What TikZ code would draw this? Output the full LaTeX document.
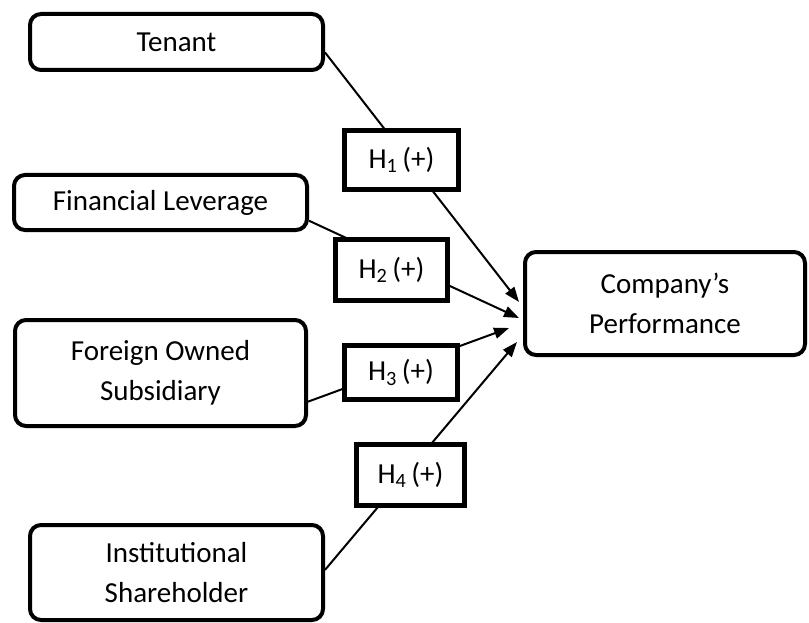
\documentclass[tikz,border=0pt]{standalone}
\usepackage{fontspec}
\setmainfont{Carlito}
\usetikzlibrary{arrows.meta}
\begin{document}
\begin{tikzpicture}[x=1pt,y=-1pt,
  var/.style={draw, line width=4pt, rounded corners=11pt, align=center,
    font=\fontsize{29}{40}\selectfont, inner sep=0pt},
  hyp/.style={draw, line width=5pt, fill=white, inner sep=0pt,
    font=\fontsize{29}{35}\selectfont},
  link/.style={line width=2pt, -{Triangle[length=15pt,width=11pt]}}]
\useasboundingbox (0,0) rectangle (809,623);
% variables
\node[var, minimum width=293pt, minimum height=56pt] (ten) at (176.5,42) {Tenant};
\node[var, minimum width=293pt, minimum height=55pt] (fl) at (160.5,202.5) {Financial Leverage};
\node[var, minimum width=291pt, minimum height=106pt] (fos) at (160.5,373) {Foreign Owned\\Subsidiary};
\node[var, minimum width=293pt, minimum height=95pt] (ins) at (176.5,572.5) {Institutional\\Shareholder};
\node[var, minimum width=280pt, minimum height=103pt] (cp) at (665,303.5) {Company’s\\Performance};
% arrow tips at the outcome box
\coordinate (t1) at (519,302);
\coordinate (t2) at (519,318);
\coordinate (t3) at (509,328);
\coordinate (t4) at (517,342);
% connectors
\draw[link] (ten.-4) -- (t1);
\draw[link] (fl.-7.6) -- (t2);
\draw[link] (fos.-11.5) -- (t3);
\draw[link] (ins.1) -- (t4);
% hypothesis labels
\node[hyp, minimum width=114pt, minimum height=59pt] (h1) at (401.5,160) {H\textsubscript{1}\,(+)};
\node[hyp, minimum width=112pt, minimum height=61pt] (h2) at (391.5,270) {H\textsubscript{2}\,(+)};
\node[hyp, minimum width=113pt, minimum height=54pt] (h3) at (401,372.5) {H\textsubscript{3}\,(+)};
\node[hyp, minimum width=108pt, minimum height=61pt] (h4) at (410.5,475) {H\textsubscript{4}\,(+)};
\end{tikzpicture}
\end{document}
